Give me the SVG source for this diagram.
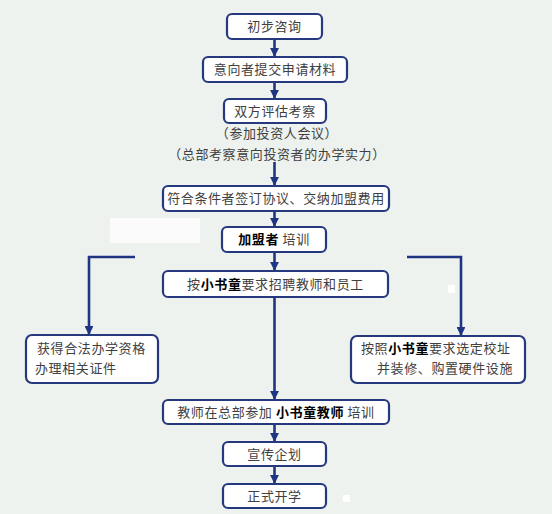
<svg xmlns="http://www.w3.org/2000/svg" width="552" height="514" viewBox="0 0 552 514">
<style>
.box{fill:#ffffff;stroke:#26397f;stroke-width:2.2}
.t{font-family:"Noto Sans CJK SC","Noto Sans CJK JP",sans-serif;font-size:13px;fill:#404040;letter-spacing:0.6px}
.b{font-weight:bold;fill:#000000}
.c{fill:none;stroke:#1e3583;stroke-width:2.6}
</style>
<defs>
<marker id="ah" viewBox="0 0 10 10" refX="9" refY="5" markerWidth="3.4" markerHeight="3.4" orient="auto" markerUnits="strokeWidth">
<path d="M0,0 L10,5 L0,10 z" fill="#1e3583"/>
</marker>
</defs>
<rect x="0" y="0" width="552" height="514" fill="#edf2ee"/>
<g id="bg-patches">
<rect x="110" y="218" width="90" height="25" fill="#ffffff" opacity="0.7"/>
<rect x="448" y="285" width="7" height="8" fill="#ffffff"/>
<rect x="343" y="495" width="7" height="7" fill="#ffffff"/>
</g>
<g id="connectors">
<line class="c" x1="274.5" y1="39" x2="274.5" y2="56" marker-end="url(#ah)"/>
<line class="c" x1="274.5" y1="82" x2="274.5" y2="98" marker-end="url(#ah)"/>
<line class="c" x1="274.5" y1="162" x2="274.5" y2="185" marker-end="url(#ah)"/>
<line class="c" x1="274.5" y1="211" x2="274.5" y2="226" marker-end="url(#ah)"/>
<line class="c" x1="274.5" y1="252" x2="274.5" y2="270" marker-end="url(#ah)"/>
<line class="c" x1="274.5" y1="297" x2="274.5" y2="399" marker-end="url(#ah)"/>
<line class="c" x1="274.5" y1="424" x2="274.5" y2="441" marker-end="url(#ah)"/>
<line class="c" x1="274.5" y1="466" x2="274.5" y2="483" marker-end="url(#ah)"/>
<polyline class="c" points="135,257 89,257 89,334" marker-end="url(#ah)"/>
<polyline class="c" points="407,257 461,257 461,335" marker-end="url(#ah)"/>
</g>
<g id="n1"><rect class="box" x="227" y="14" width="95" height="25" rx="5"/><text class="t" x="274.5" y="31" text-anchor="middle">初步咨询</text></g>
<g id="n2"><rect class="box" x="203" y="57" width="144" height="25" rx="5"/><text class="t" x="275" y="74" text-anchor="middle">意向者提交申请材料</text></g>
<g id="n3"><rect class="box" x="224" y="99" width="102" height="24" rx="5"/><text class="t" x="275" y="116" text-anchor="middle">双方评估考察</text>
<text class="t" x="277" y="138" text-anchor="middle">（参加投资人会议）</text>
<text class="t" x="277" y="159" text-anchor="middle">（总部考察意向投资者的办学实力）</text></g>
<g id="n4"><rect class="box" x="163" y="186" width="226" height="25" rx="5"/><text class="t" x="276" y="203" text-anchor="middle" letter-spacing="0.1">符合条件者签订协议、交纳加盟费用</text></g>
<g id="n5"><rect class="box" x="222" y="227" width="104" height="25" rx="5"/><text class="t" x="274" y="244" text-anchor="middle"><tspan class="b">加盟者</tspan> 培训</text></g>
<g id="n6"><rect class="box" x="163" y="271" width="225" height="26" rx="5"/><text class="t" x="275.5" y="289" text-anchor="middle">按<tspan class="b">小书童</tspan>要求招聘教师和员工</text></g>
<g id="n7"><rect class="box" x="26" y="335" width="132" height="48" rx="6"/><text class="t" x="37" y="353">获得合法办学资格</text><text class="t" x="35" y="373">办理相关证件</text></g>
<g id="n8"><rect class="box" x="351" y="336" width="174" height="47" rx="6"/><text class="t" x="361" y="353">按照<tspan class="b">小书童</tspan>要求选定校址</text><text class="t" x="377" y="373">并装修、购置硬件设施</text></g>
<g id="n9"><rect class="box" x="163" y="400" width="226" height="24" rx="5"/><text class="t" x="276" y="417" text-anchor="middle">教师在总部参加 <tspan class="b">小书童教师</tspan> 培训</text></g>
<g id="n10"><rect class="box" x="223" y="442" width="103" height="24" rx="5"/><text class="t" x="274.5" y="459" text-anchor="middle">宣传企划</text></g>
<g id="n11"><rect class="box" x="223" y="484" width="103" height="24" rx="5"/><text class="t" x="274.5" y="501" text-anchor="middle">正式开学</text></g>
</svg>
